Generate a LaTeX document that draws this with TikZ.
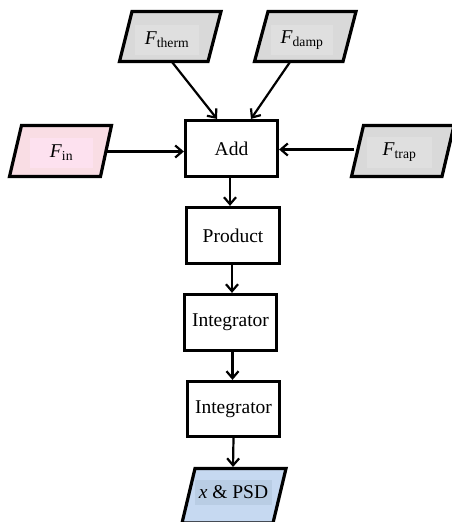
\documentclass[tikz,border=0pt]{standalone}
\usepackage{fontspec}
\setmainfont{Liberation Serif}
\usetikzlibrary{arrows.meta,calc}
\definecolor{pinkout}{HTML}{F9DDE4}
\definecolor{pinkin}{HTML}{FDE1EF}
\definecolor{grayout}{HTML}{D9D9D9}
\definecolor{grayin}{HTML}{DFDFDF}
\definecolor{blueout}{HTML}{C6D9F1}
\definecolor{bluein}{HTML}{B9CDE4}
\tikzset{
  block/.style={draw, line width=3.2pt, fill=white, inner sep=0pt,
    font=\fontsize{19.5}{22}\selectfont},
  para/.style={draw, line width=3.2pt, line join=miter},
  lab/.style={inner sep=0pt, font=\fontsize{19.5}{22}\selectfont},
  arr/.style={line width=2.2pt, -{Straight Barb[length=7pt,width=12pt,line width=2.2pt]}}
}
\newcommand{\Fsub}[1]{\textit{F}\textsubscript{#1}}
\begin{document}
\begin{tikzpicture}[x=1pt,y=-1pt]
\useasboundingbox (0,0) rectangle (451,522);
% parallelograms
\draw[para, fill=grayout] (132,11.5) -- (221,11.5) -- (208,61.5) -- (119.5,61.5) -- cycle;
\draw[para, fill=grayout] (268,11.5) -- (356,11.5) -- (343,61.5) -- (254.5,61.5) -- cycle;
\draw[para, fill=pinkout] (21.5,125.5) -- (111.5,125.5) -- (100.5,176.5) -- (9.5,176.5) -- cycle;
\draw[para, fill=grayout] (363.5,125.5) -- (454,125.5) -- (442,176.5) -- (351.5,176.5) -- cycle;
\draw[para, fill=blueout] (195,468.5) -- (286,468.5) -- (273,523) -- (182,523) -- cycle;
% labels of inputs/outputs
\node[lab, fill=grayin, minimum width=64pt, minimum height=30pt] (therm) at (167,40) {\Fsub{therm}};
\node[lab, fill=grayin, minimum width=62pt, minimum height=30pt] (damp) at (302,40) {\Fsub{damp}};
\node[lab, fill=pinkin, minimum width=63pt, minimum height=30pt] (fin) at (61.5,153) {\Fsub{in}};
\node[lab, fill=grayin, minimum width=65pt, minimum height=31pt] (trap) at (399.5,152.5) {\Fsub{trap}};
\node[lab, fill=bluein, minimum width=77pt, minimum height=25pt] (psd) at (233.5,492.5) {\textit{x} \& PSD};
% blocks
\node[block, minimum width=92pt, minimum height=56pt] (add) at (231.5,148.5) {Add};
\node[block, minimum width=93pt, minimum height=56pt] (prod) at (233,235.5) {Product};
\node[block, minimum width=92pt, minimum height=56pt] (int1) at (230.5,322.5) {Integrator};
\node[block, minimum width=92pt, minimum height=55pt] (int2) at (233.5,409) {Integrator};
% connectors
\coordinate (thermB) at (172,62);
\coordinate (dampB) at (290,62);
\coordinate (finR) at (106,151.5);
\coordinate (trapL) at (354,149.5);
\coordinate (psdT) at (233,467);
\draw[arr] (thermB) -- ($(add.north)+(-14.5,0)$);
\draw[arr] (dampB) -- ($(add.north)+(19.5,0)$);
\draw[arr] (finR) -- (add.west |- finR);
\draw[arr] (trapL) -- (add.east |- trapL);
\draw[arr] ($(add.south)+(-1.5,0)$) -- ($(prod.north)+(-3,0)$);
\draw[arr] ($(prod.south)+(-1,0)$) -- ($(int1.north)+(1.5,0)$);
\draw[arr] ($(int1.south)+(2,0)$) -- ($(int2.north)+(-1,0)$);
\draw[arr] (int2.south) -- (psdT);
\end{tikzpicture}
\end{document}
